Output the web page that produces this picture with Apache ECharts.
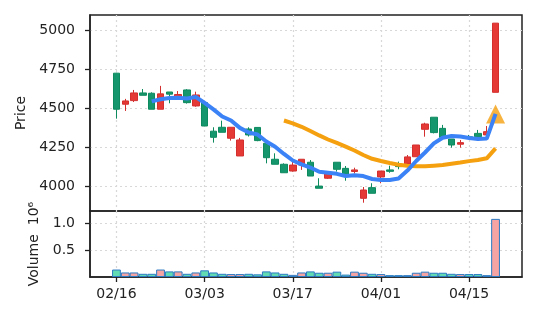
<!DOCTYPE html>
<html>
<head>
<meta charset="utf-8">
<script src="https://cdn.jsdelivr.net/npm/echarts@6/dist/echarts.min.js"></script>
<style>
html,body{margin:0;padding:0;background:#fff;}
#chart{width:537px;height:322px;}
</style>
</head>
<body>
<div id="chart"></div>
<script>
// ---- data ----
const dates = ['02/16','02/18','02/19','02/20','02/23','02/24','02/25','02/26','02/27','03/02',
  '03/03','03/04','03/05','03/06','03/09','03/10','03/11','03/12','03/13','03/16',
  '03/17','03/18','03/19','03/23','03/24','03/25','03/26','03/27','03/30','03/31',
  '04/01','04/02','04/03','04/06','04/07','04/08','04/09','04/10','04/13','04/14',
  '04/15','04/16','04/17','04/20'];
// [open, close, low, high]  (red = up, green = down)
const ohlc = [
  [4724,4494,4434,4726],[4526,4547,4483,4560],[4549,4598,4540,4617],[4598,4583,4583,4623],
  [4596,4494,4494,4602],[4494,4592,4494,4643],[4604,4590,4532,4604],[4560,4588,4560,4610],
  [4617,4536,4530,4622],[4515,4585,4510,4606],[4536,4387,4387,4540],[4354,4315,4281,4379],
  [4379,4347,4347,4421],[4309,4379,4294,4379],[4196,4298,4196,4311],[4368,4330,4320,4379],
  [4378,4294,4290,4380],[4277,4185,4149,4277],[4175,4143,4143,4213],[4143,4089,4089,4149],
  [4100,4138,4096,4160],[4138,4175,4107,4175],[4156,4068,4068,4170],[4004,3990,3990,4054],
  [4054,4086,4050,4090],[4156,4111,4096,4156],[4117,4079,4038,4132],[4097,4107,4084,4121],
  [3926,3979,3898,3998],[3994,3958,3958,4022],[4062,4100,4022,4100],[4107,4098,4089,4134],
  [4138,4128,4111,4160],[4145,4190,4140,4202],[4191,4266,4191,4266],[4366,4400,4319,4408],
  [4443,4345,4340,4443],[4372,4314,4314,4394],[4304,4266,4249,4304],[4271,4281,4249,4298],
  [4318,4310,4305,4330],[4340,4319,4319,4362],[4330,4351,4330,4387],[4602,5043,4602,5043]
];
const volume = [140000,85000,85000,60000,60000,140000,105000,105000,60000,85000,
  125000,85000,60000,55000,55000,60000,50000,105000,85000,60000,
  40000,85000,105000,80000,80000,100000,45000,100000,80000,60000,
  55000,35000,35000,35000,80000,100000,80000,80000,60000,55000,
  55000,55000,35000,1090000];
const maShort = [null,null,null,null,4544,4558,4566,4567,4563,4572,
  4534,4493,4448,4422,4375,4346,4333,4288,4255,4209,
  4167,4142,4122,4095,4089,4082,4068,4073,4068,4049,
  4043,4043,4052,4103,4164,4218,4276,4312,4323,4320,
  4311,4304,4307,4464];
const maLong = [null,null,null,null,null,null,null,null,null,null,
  null,null,null,null,null,null,null,null,null,4422,
  4404,4382,4355,4327,4301,4279,4256,4231,4202,4178,
  4164,4151,4140,4133,4130,4130,4134,4138,4146,4154,
  4163,4170,4181,4244];
const signal = [null,null,null,null,null,null,null,null,null,null,
  null,null,null,null,null,null,null,null,null,null,
  null,null,null,null,null,null,null,null,null,null,
  null,null,null,null,null,null,null,null,null,null,
  null,null,null,4463];
const priceTicks = [4000,4250,4500,4750,5000];
const volTicks = [500000,1000000];

// ---- build ----
const PAD = 3;
const padL = Array.from({length:PAD},(_, k)=>'_l'+k);
const padR = Array.from({length:PAD},(_, k)=>'_r'+k);
const cats = padL.concat(dates, padR);
const padArr = a => Array(PAD).fill('-').concat(a.map(v => v == null ? '-' : v), Array(PAD).fill('-'));
const UP = '#e53935', UPB = '#d32f2f', DN = '#16966c', DNB = '#0e8a5f';
const volData = padArr(volume.map((v,i)=>({
  value: v,
  itemStyle: { color: ohlc[i][1] >= ohlc[i][0] ? '#f5a3a3' : '#62dbb2' }
})));
const showIdx = (idx) => idx >= PAD && (idx - PAD) % 10 === 0 && idx - PAD < dates.length;
const FONT = 'DejaVu Sans';
const FS = 14;
const gridLine = { show: true, lineStyle: { color: '#d8d8d8', type: [2,3], width: 1.2 } };

const chart = echarts.init(document.getElementById('chart'), null, {renderer:'canvas'});
chart.setOption({
  animation: false,
  backgroundColor: '#fff',
  grid: [
    { left: 90, right: 15, top: 15, height: 196, show: true, borderColor: '#222', borderWidth: 1.5, backgroundColor: 'transparent' },
    { left: 90, right: 15, top: 211, height: 66, show: true, borderColor: '#222', borderWidth: 1.5, backgroundColor: 'transparent' }
  ],
  xAxis: [
    { type: 'category', gridIndex: 0, data: cats, boundaryGap: false,
      axisLine: { show: false }, axisTick: { show: false }, axisLabel: { show: false },
      splitLine: Object.assign({ interval: (i) => showIdx(i) }, gridLine) },
    { type: 'category', gridIndex: 1, data: cats, boundaryGap: false,
      axisLine: { show: true, lineStyle: { color: '#222', width: 1.5 } },
      axisTick: { show: true, interval: (i) => showIdx(i), length: 5, lineStyle: { color: '#222', width: 1.3 } },
      axisLabel: { interval: (i) => showIdx(i), color: '#222', fontFamily: FONT, fontSize: FS, margin: 10 },
      splitLine: Object.assign({ interval: (i) => showIdx(i) }, gridLine) }
  ],
  yAxis: [
    { type: 'value', gridIndex: 0, min: 3845, max: 5095, scale: true,
      name: 'Price', nameLocation: 'middle', nameGap: 62, nameRotate: 90,
      nameTextStyle: { color: '#222', fontFamily: FONT, fontSize: FS },
      axisLine: { show: true, lineStyle: { color: '#222', width: 1.5 } },
      axisTick: { show: true, length: 5, customValues: priceTicks, lineStyle: { color: '#222', width: 1.3 } },
      axisLabel: { customValues: priceTicks, color: '#222', fontFamily: FONT, fontSize: FS, margin: 15,
        formatter: v => String(v) },
      splitLine: gridLine },
    { type: 'value', gridIndex: 1, min: 0, max: 1238000,
      name: 'Volume  10\u2076', nameLocation: 'middle', nameGap: 48, nameRotate: 90,
      nameTextStyle: { color: '#222', fontFamily: FONT, fontSize: FS },
      axisLine: { show: true, lineStyle: { color: '#222', width: 1.5 } },
      axisTick: { show: true, length: 5, customValues: volTicks, lineStyle: { color: '#222', width: 1.3 } },
      axisLabel: { customValues: volTicks, color: '#222', fontFamily: FONT, fontSize: FS, margin: 15,
        formatter: v => (v/1e6).toFixed(1) },
      splitLine: gridLine }
  ],
  series: [
    { type: 'candlestick', xAxisIndex: 0, yAxisIndex: 0, data: padArr(ohlc), barWidth: 7, z: 2,
      itemStyle: { color: UP, color0: DN, borderColor: UPB, borderColor0: DNB, borderWidth: 1 } },
    { type: 'scatter', xAxisIndex: 0, yAxisIndex: 0, data: padArr(signal), symbol: 'triangle',
      symbolSize: [19, 19], itemStyle: { color: '#f5a00f' }, z: 3 },
    { type: 'line', xAxisIndex: 0, yAxisIndex: 0, data: padArr(maLong), showSymbol: false, symbol: 'none',
      lineStyle: { color: '#f5a00f', width: 4 }, z: 4 },
    { type: 'line', xAxisIndex: 0, yAxisIndex: 0, data: padArr(maShort), showSymbol: false, symbol: 'none',
      lineStyle: { color: '#3b82f6', width: 4 }, z: 5 },
    { type: 'bar', xAxisIndex: 1, yAxisIndex: 1, data: volData, barWidth: 8.8, z: 2,
      itemStyle: { borderColor: '#2b7bc4', borderWidth: 1 } }
  ]
});
</script>
</body>
</html>
